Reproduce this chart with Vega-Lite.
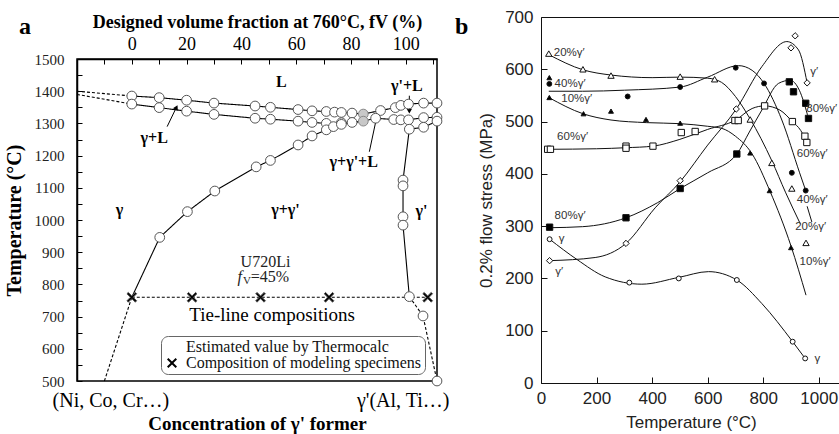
{
  "$schema": "https://vega.github.io/schema/vega-lite/v6.json",
  "background": "white",
  "padding": {"left": 3, "top": 8, "right": 0, "bottom": 0},
  "spacing": 5,
  "resolve": {"scale": {"shape": "independent", "fill": "independent"}, "legend": {"shape": "independent", "fill": "independent"}},
  "config": {"axis": {"grid": false, "labelFlush": false}},
  "datasets": {
    "a_lines": [
      {"seg":"liq","x":0,"t":1385,"style":"solid","m":"o"},
      {"seg":"liq","x":10,"t":1380,"style":"solid","m":"o"},
      {"seg":"liq","x":20,"t":1372,"style":"solid","m":"o"},
      {"seg":"liq","x":30,"t":1363,"style":"solid","m":"o"},
      {"seg":"liq","x":45,"t":1354,"style":"solid","m":"o"},
      {"seg":"liq","x":50.6,"t":1350,"style":"solid","m":"o"},
      {"seg":"liq","x":60.7,"t":1343,"style":"solid","m":"o"},
      {"seg":"liq","x":65.8,"t":1339,"style":"solid","m":"o"},
      {"seg":"liq","x":71,"t":1337,"style":"solid","m":"o"},
      {"seg":"liq","x":74,"t":1335,"style":"solid","m":"o"},
      {"seg":"liq","x":76.5,"t":1334,"style":"solid","m":"o"},
      {"seg":"liq","x":80.4,"t":1332,"style":"solid","m":"o"},
      {"seg":"liq","x":84.5,"t":1329,"style":"solid","m":"g"},
      {"seg":"liq","x":90.8,"t":1340,"style":"solid","m":"o"},
      {"seg":"liq","x":96.2,"t":1349,"style":"solid","m":"o"},
      {"seg":"liq","x":98.2,"t":1356,"style":"solid","m":"o"},
      {"seg":"liq","x":101,"t":1360,"style":"solid","m":"o"},
      {"seg":"liq","x":106.5,"t":1363,"style":"solid","m":"o"},
      {"seg":"liq","x":111.4,"t":1363,"style":"solid","m":"o"},
      {"seg":"sol","x":0,"t":1360,"style":"solid","m":"o"},
      {"seg":"sol","x":10,"t":1349,"style":"solid","m":"o"},
      {"seg":"sol","x":20,"t":1338,"style":"solid","m":"o"},
      {"seg":"sol","x":30,"t":1328,"style":"solid","m":"o"},
      {"seg":"sol","x":45,"t":1316,"style":"solid","m":"o"},
      {"seg":"sol","x":50.6,"t":1313,"style":"solid","m":"o"},
      {"seg":"sol","x":60.7,"t":1307,"style":"solid","m":"o"},
      {"seg":"sol","x":65.8,"t":1303,"style":"solid","m":"o"},
      {"seg":"sol","x":71,"t":1300,"style":"solid","m":"o"},
      {"seg":"sol","x":76.5,"t":1302,"style":"solid","m":"o"},
      {"seg":"sol","x":80.4,"t":1303,"style":"solid","m":"o"},
      {"seg":"sol","x":84.5,"t":1307,"style":"solid","m":"g"},
      {"seg":"solv","x":0,"t":760,"style":"solid","m":""},
      {"seg":"solv","x":10.2,"t":946,"style":"solid","m":"o"},
      {"seg":"solv","x":20.3,"t":1026,"style":"solid","m":"o"},
      {"seg":"solv","x":30.3,"t":1090,"style":"solid","m":"o"},
      {"seg":"solv","x":45.4,"t":1165,"style":"solid","m":"o"},
      {"seg":"solv","x":50.6,"t":1185,"style":"solid","m":"o"},
      {"seg":"solv","x":60.7,"t":1233,"style":"solid","m":"o"},
      {"seg":"solv","x":65.8,"t":1261,"style":"solid","m":"o"},
      {"seg":"solv","x":71,"t":1280,"style":"solid","m":"o"},
      {"seg":"solv","x":73.6,"t":1290,"style":"solid","m":"o"},
      {"seg":"solv","x":76.5,"t":1297,"style":"solid","m":"o"},
      {"seg":"solv","x":80.4,"t":1302,"style":"solid","m":""},
      {"seg":"solv","x":84.5,"t":1307,"style":"solid","m":""},
      {"seg":"gpl","x":84.5,"t":1307,"style":"solid","m":""},
      {"seg":"gpl","x":89,"t":1316,"style":"solid","m":"o"},
      {"seg":"gpl","x":95.6,"t":1312,"style":"solid","m":"o"},
      {"seg":"gpl","x":98.2,"t":1311,"style":"solid","m":"o"},
      {"seg":"gpl","x":101,"t":1311,"style":"solid","m":"o"},
      {"seg":"gpl","x":106.5,"t":1318,"style":"solid","m":"o"},
      {"seg":"gpl","x":111.4,"t":1319,"style":"solid","m":"o"},
      {"seg":"gps","x":101.3,"t":1282,"style":"solid","m":"o"},
      {"seg":"gps","x":106.5,"t":1288,"style":"solid","m":"o"},
      {"seg":"gps","x":111.4,"t":1307,"style":"solid","m":"o"},
      {"seg":"gpv","x":101.3,"t":1282,"style":"solid","m":""},
      {"seg":"gpv","x":99,"t":1124,"style":"solid","m":"o"},
      {"seg":"gpv","x":99,"t":1106,"style":"solid","m":"o"},
      {"seg":"gpv","x":99,"t":1010,"style":"solid","m":"o"},
      {"seg":"gpv","x":99,"t":984,"style":"solid","m":"o"},
      {"seg":"gpv","x":101.3,"t":762,"style":"solid","m":"o"},
      {"seg":"liqx","x":-20,"t":1400,"style":"dash","m":""},
      {"seg":"liqx","x":0,"t":1385,"style":"dash","m":""},
      {"seg":"solx","x":-20,"t":1390,"style":"dash","m":""},
      {"seg":"solx","x":0,"t":1360,"style":"dash","m":""},
      {"seg":"solvx","x":-10,"t":500,"style":"dash","m":""},
      {"seg":"solvx","x":0,"t":760,"style":"dash","m":""},
      {"seg":"gpvx","x":101.3,"t":762,"style":"dash","m":""},
      {"seg":"gpvx","x":106.3,"t":702,"style":"dash","m":"o"},
      {"seg":"gpvx","x":111.4,"t":500,"style":"dash","m":"o"},
      {"seg":"tie","x":0,"t":760,"style":"dash","m":"x"},
      {"seg":"tie","x":22,"t":760,"style":"dash","m":"x"},
      {"seg":"tie","x":47,"t":760,"style":"dash","m":"x"},
      {"seg":"tie","x":72,"t":760,"style":"dash","m":"x"},
      {"seg":"tie","x":108,"t":760,"style":"dash","m":"x"}
    ],
    "a_arrows": [
      {"arrow":"gl","x":12.9,"t":1290},
      {"arrow":"gl","x":16.3,"t":1350},
      {"arrow":"gpl","x":101.3,"t":1386},
      {"arrow":"gpl","x":101.3,"t":1336},
      {"arrow":"g3","x":86.7,"t":1212},
      {"arrow":"g3","x":89.5,"t":1324}
    ],
    "b_curves": [
      {"s":"γ","T":31,"S":275},{"s":"γ","T":130,"S":236},{"s":"γ","T":231,"S":203},{"s":"γ","T":363,"S":189},{"s":"γ","T":496,"S":202},{"s":"γ","T":603,"S":213},{"s":"γ","T":705,"S":197},{"s":"γ","T":795,"S":152},{"s":"γ","T":906,"S":79},{"s":"γ","T":951,"S":47},
      {"s":"γ′","T":31,"S":234},{"s":"γ′","T":195,"S":240},{"s":"γ′","T":306,"S":267},{"s":"γ′","T":411,"S":335},{"s":"γ′","T":501,"S":385},{"s":"γ′","T":600,"S":455},{"s":"γ′","T":703,"S":524},{"s":"γ′","T":795,"S":605},{"s":"γ′","T":885,"S":653},{"s":"γ′","T":927,"S":637},{"s":"γ′","T":958,"S":574},
      {"s":"10%","T":28,"S":546},{"s":"10%","T":151,"S":515},{"s":"10%","T":252,"S":503},{"s":"10%","T":379,"S":498},{"s":"10%","T":501,"S":496},{"s":"10%","T":600,"S":491},{"s":"10%","T":651,"S":487},{"s":"10%","T":700,"S":472},{"s":"10%","T":759,"S":439},{"s":"10%","T":825,"S":366},{"s":"10%","T":900,"S":262},{"s":"10%","T":954,"S":168},
      {"s":"20%","T":28,"S":628},{"s":"20%","T":151,"S":599},{"s":"20%","T":252,"S":589},{"s":"20%","T":400,"S":584},{"s":"20%","T":501,"S":585},{"s":"20%","T":600,"S":583},{"s":"20%","T":650,"S":575},{"s":"20%","T":700,"S":548},{"s":"20%","T":753,"S":505},{"s":"20%","T":831,"S":425},{"s":"20%","T":880,"S":365},{"s":"20%","T":933,"S":305},
      {"s":"40%","T":28,"S":558},{"s":"40%","T":150,"S":558},{"s":"40%","T":300,"S":560},{"s":"40%","T":501,"S":566},{"s":"40%","T":600,"S":585},{"s":"40%","T":711,"S":607},{"s":"40%","T":760,"S":598},{"s":"40%","T":803,"S":573},{"s":"40%","T":867,"S":503},{"s":"40%","T":931,"S":402},{"s":"40%","T":953,"S":368},
      {"s":"40%b","T":958,"S":338},{"s":"40%b","T":975,"S":308},
      {"s":"60%","T":28,"S":447},{"s":"60%","T":200,"S":448},{"s":"60%","T":306,"S":450},{"s":"60%","T":403,"S":453},{"s":"60%","T":500,"S":466},{"s":"60%","T":600,"S":485},{"s":"60%","T":701,"S":503},{"s":"60%","T":760,"S":525},{"s":"60%","T":805,"S":530},{"s":"60%","T":860,"S":522},{"s":"60%","T":905,"S":500},{"s":"60%","T":935,"S":483},{"s":"60%","T":957,"S":460},
      {"s":"80%","T":31,"S":297},{"s":"80%","T":150,"S":299},{"s":"80%","T":306,"S":316},{"s":"80%","T":420,"S":345},{"s":"80%","T":501,"S":372},{"s":"80%","T":600,"S":402},{"s":"80%","T":705,"S":438},{"s":"80%","T":750,"S":480},{"s":"80%","T":795,"S":522},{"s":"80%","T":855,"S":573},{"s":"80%","T":897,"S":579},{"s":"80%","T":930,"S":560},{"s":"80%","T":963,"S":506}
    ],
    "b_pts": [
      {"s":"γ","T":31,"S":275},{"s":"γ","T":318,"S":192},{"s":"γ","T":496,"S":200},{"s":"γ","T":705,"S":197},{"s":"γ","T":906,"S":79},{"s":"γ","T":951,"S":47},
      {"s":"γ′","T":31,"S":234},{"s":"γ′","T":306,"S":267},{"s":"γ′","T":501,"S":387},{"s":"γ′","T":703,"S":524},{"s":"γ′","T":900,"S":641},{"s":"γ′","T":915,"S":664},{"s":"γ′","T":958,"S":574},
      {"s":"10%","T":30,"S":584},{"s":"10%","T":30,"S":546},{"s":"10%","T":153,"S":515},{"s":"10%","T":252,"S":520},{"s":"10%","T":378,"S":504},{"s":"10%","T":501,"S":497},{"s":"10%","T":753,"S":440},{"s":"10%","T":823,"S":368},{"s":"10%","T":900,"S":259},
      {"s":"20%","T":28,"S":630},{"s":"20%","T":151,"S":600},{"s":"20%","T":252,"S":588},{"s":"20%","T":501,"S":586},{"s":"20%","T":625,"S":581},{"s":"20%","T":753,"S":504},{"s":"20%","T":831,"S":421},{"s":"20%","T":903,"S":372},{"s":"20%","T":954,"S":268},
      {"s":"40%","T":30,"S":572},{"s":"40%","T":312,"S":548},{"s":"40%","T":501,"S":566},{"s":"40%","T":701,"S":603},{"s":"40%","T":803,"S":573},{"s":"40%","T":903,"S":402},{"s":"40%","T":953,"S":368},
      {"s":"60%","T":24,"S":447},{"s":"60%","T":34,"S":447},{"s":"60%","T":306,"S":453},{"s":"60%","T":306,"S":449},{"s":"60%","T":403,"S":453},{"s":"60%","T":505,"S":479},{"s":"60%","T":555,"S":481},{"s":"60%","T":698,"S":502},{"s":"60%","T":710,"S":502},{"s":"60%","T":805,"S":530},{"s":"60%","T":905,"S":500},{"s":"60%","T":950,"S":472},{"s":"60%","T":957,"S":460},
      {"s":"80%","T":31,"S":298},{"s":"80%","T":306,"S":316},{"s":"80%","T":501,"S":372},{"s":"80%","T":705,"S":438},{"s":"80%","T":894,"S":576},{"s":"80%","T":909,"S":557},{"s":"80%","T":953,"S":535},{"s":"80%","T":963,"S":506}
    ],
    "b_labels": [
      {"T":46,"S":632,"txt":"20%γ′"},
      {"T":49,"S":572,"txt":"40%γ′"},
      {"T":73,"S":544,"txt":"10%γ′"},
      {"T":58,"S":470,"txt":"60%γ′"},
      {"T":49,"S":320,"txt":"80%γ′"},
      {"T":64,"S":275,"txt":"γ"},
      {"T":51,"S":213,"txt":"γ′"},
      {"T":969,"S":595,"txt":"γ′"},
      {"T":955,"S":524,"txt":"80%γ′"},
      {"T":921,"S":438,"txt":"60%γ′"},
      {"T":921,"S":350,"txt":"40%γ′"},
      {"T":915,"S":298,"txt":"20%γ′"},
      {"T":931,"S":231,"txt":"10%γ′"},
      {"T":985,"S":45,"txt":"γ"}
    ]
  },
  "hconcat": [
    {
      "width": 360,
      "height": 322,
      "title": {"text": "a", "anchor": "start", "frame": "group", "font": "Liberation Serif", "fontSize": 24, "fontWeight": "bold", "color": "black", "baseline": "alphabetic", "offset": 0, "dx": -58, "dy": 45},
      "view": {"stroke": "black", "strokeWidth": 1.5},
      "resolve": {"axis": {"x": "independent"}},
      "layer": [
        {
          "data": {"name": "a_lines"},
          "mark": {"type": "line", "color": "black", "strokeWidth": 1.1},
          "encoding": {
            "x": {"field": "x", "type": "quantitative", "scale": {"domain": [-20, 111.4], "nice": false, "zero": false},
              "axis": {"orient": "top", "title": "Designed volume fraction at 760°C, fV (%)", "values": [-10,0,10,20,30,40,50,60,70,80,90,100,110], "tickCount": 60, "labelExpr": "datum.value >= 0 && datum.value <= 100 && datum.value % 20 == 0 ? datum.label : ''", "tickSize": -5, "tickColor": "black", "domainColor": "black", "domainWidth": 1.5, "labelFont": "Liberation Serif", "labelFontSize": 18, "labelColor": "black", "labelPadding": 11, "titleFont": "Liberation Serif", "titleFontSize": 18, "titleFontWeight": "bold", "titleColor": "black", "titlePadding": 4, "labelOverlap": false}},
            "y": {"field": "t", "type": "quantitative", "scale": {"domain": [500, 1500], "nice": false, "zero": false},
              "axis": {"orient": "left", "title": "Temperature (°C)", "values": [500,550,600,650,700,750,800,850,900,950,1000,1050,1100,1150,1200,1250,1300,1350,1400,1450,1500], "tickCount": 60, "labelExpr": "datum.value % 100 == 0 ? datum.label : ''", "format": "d", "tickSize": -5, "tickColor": "black", "domainColor": "black", "domainWidth": 1.5, "labelFont": "Liberation Serif", "labelFontSize": 15, "labelColor": "#222", "labelPadding": 18, "titleFont": "Liberation Serif", "titleFontSize": 20, "titleFontWeight": "bold", "titleColor": "black", "titlePadding": 10, "labelOverlap": false}},
            "detail": {"field": "seg", "type": "nominal"},
            "strokeDash": {"field": "style", "type": "nominal", "scale": {"domain": ["solid", "dash"], "range": [[1, 0], [3, 2]]}, "legend": null},
            "order": {"value": null}
          }
        },
        {
          "data": {"name": "a_arrows"},
          "mark": {"type": "line", "color": "black", "strokeWidth": 1},
          "encoding": {
            "x": {"field": "x", "type": "quantitative", "scale": {"domain": [-20, 111.4], "nice": false, "zero": false}, "axis": null},
            "y": {"field": "t", "type": "quantitative", "scale": {"domain": [500, 1500], "nice": false, "zero": false}},
            "detail": {"field": "arrow", "type": "nominal"},
            "order": {"value": null}
          }
        },
        {
          "data": {"values": [{"x": 16.3, "t": 1350}]},
          "mark": {"type": "point", "shape": "triangle-up", "filled": true, "color": "black", "size": 30, "angle": 26, "opacity": 1},
          "encoding": {
            "x": {"field": "x", "type": "quantitative", "scale": {"domain": [-20, 111.4], "nice": false, "zero": false}, "axis": null},
            "y": {"field": "t", "type": "quantitative", "scale": {"domain": [500, 1500], "nice": false, "zero": false}}
          }
        },
        {
          "data": {"values": [{"x": 101.3, "t": 1338}]},
          "mark": {"type": "point", "shape": "triangle-up", "filled": true, "color": "black", "size": 30, "angle": 180, "opacity": 1},
          "encoding": {
            "x": {"field": "x", "type": "quantitative", "scale": {"domain": [-20, 111.4], "nice": false, "zero": false}, "axis": null},
            "y": {"field": "t", "type": "quantitative", "scale": {"domain": [500, 1500], "nice": false, "zero": false}}
          }
        },
        {
          "data": {"values": [{"x": 89.5, "t": 1322}]},
          "mark": {"type": "point", "shape": "triangle-up", "filled": true, "color": "black", "size": 30, "angle": 12, "opacity": 1},
          "encoding": {
            "x": {"field": "x", "type": "quantitative", "scale": {"domain": [-20, 111.4], "nice": false, "zero": false}, "axis": null},
            "y": {"field": "t", "type": "quantitative", "scale": {"domain": [500, 1500], "nice": false, "zero": false}}
          }
        },
        {
          "data": {"name": "a_lines"},
          "transform": [{"filter": "datum.m == 'g'"}],
          "mark": {"type": "point", "filled": true, "fill": "#c8c8c8", "stroke": "#888", "strokeWidth": 1, "size": 95, "opacity": 1},
          "encoding": {
            "x": {"field": "x", "type": "quantitative", "scale": {"domain": [-20, 111.4], "nice": false, "zero": false}, "axis": null},
            "y": {"field": "t", "type": "quantitative", "scale": {"domain": [500, 1500], "nice": false, "zero": false}}
          }
        },
        {
          "data": {"name": "a_lines"},
          "transform": [{"filter": "datum.m == 'o' || datum.m == 'x'"}],
          "mark": {"type": "point", "filled": true, "stroke": "#555", "strokeWidth": 1, "size": 95, "opacity": 1},
          "encoding": {
            "x": {"field": "x", "type": "quantitative", "scale": {"domain": [-20, 111.4], "nice": false, "zero": false},
              "axis": {"orient": "bottom", "title": "Concentration of γ' former", "values": [-7.8, 98.9], "tickCount": 60, "labelExpr": "datum.value < 50 ? '(Ni, Co, Cr…)' : \"γ'(Al, Ti…)\"", "ticks": false, "domain": false, "labelFont": "Liberation Serif", "labelFontSize": 20, "labelColor": "black", "labelPadding": 9, "titleFont": "Liberation Serif", "titleFontSize": 19, "titleFontWeight": "bold", "titleColor": "black", "titlePadding": 4, "labelOverlap": false}},
            "y": {"field": "t", "type": "quantitative", "scale": {"domain": [500, 1500], "nice": false, "zero": false}},
            "shape": {"field": "m", "type": "nominal", "scale": {"domain": ["o", "x"], "range": ["circle", "M-1,-0.72L-0.72,-1L0,-0.28L0.72,-1L1,-0.72L0.28,0L1,0.72L0.72,1L0,0.28L-0.72,1L-1,0.72L-0.28,0Z"]},
              "legend": {"orient": "none", "legendX": 84, "legendY": 277, "title": null, "fillColor": "white", "strokeColor": "#666", "cornerRadius": 7, "padding": 3, "labelFont": "Liberation Serif", "labelFontSize": 16, "labelColor": "#111", "symbolStrokeColor": "#555", "symbolStrokeWidth": 1, "symbolSize": 100, "rowPadding": 0, "labelOffset": 6, "labelLimit": 400, "labelExpr": "datum.value == 'o' ? 'Estimated value by Thermocalc' : 'Composition of modeling specimens'"}},
            "fill": {"field": "m", "type": "nominal", "scale": {"domain": ["o", "x"], "range": ["white", "black"]},
              "legend": {"orient": "none", "legendX": 84, "legendY": 277, "title": null, "fillColor": "white", "strokeColor": "#666", "cornerRadius": 7, "padding": 3, "labelFont": "Liberation Serif", "labelFontSize": 16, "labelColor": "#111", "symbolStrokeColor": "#555", "symbolStrokeWidth": 1, "symbolSize": 100, "rowPadding": 0, "labelOffset": 6, "labelLimit": 400, "labelExpr": "datum.value == 'o' ? 'Estimated value by Thermocalc' : 'Composition of modeling specimens'"}}
          }
        },
        {
          "data": {"values": [
            {"x": 54.6, "t": 1430, "txt": "L"},
            {"x": 100.4, "t": 1416, "txt": "γ'+L"},
            {"x": 8.2, "t": 1254, "txt": "γ+L"},
            {"x": 81, "t": 1181, "txt": "γ+γ'+L"},
            {"x": -4.5, "t": 1031, "txt": "γ"},
            {"x": 56.1, "t": 1031, "txt": "γ+γ'"},
            {"x": 105.7, "t": 1028, "txt": "γ'"}
          ]},
          "mark": {"type": "text", "font": "Liberation Serif", "fontSize": 16, "fontWeight": "bold", "color": "black", "align": "center", "baseline": "middle"},
          "encoding": {
            "x": {"field": "x", "type": "quantitative", "scale": {"domain": [-20, 111.4], "nice": false, "zero": false}, "axis": null},
            "y": {"field": "t", "type": "quantitative", "scale": {"domain": [500, 1500], "nice": false, "zero": false}},
            "text": {"field": "txt"}
          }
        },
        {
          "data": {"values": [
            {"x": 48.8, "t": 870, "txt": "U720Li"}
          ]},
          "mark": {"type": "text", "font": "Liberation Serif", "fontSize": 16, "color": "#222", "align": "center", "baseline": "middle"},
          "encoding": {
            "x": {"field": "x", "type": "quantitative", "scale": {"domain": [-20, 111.4], "nice": false, "zero": false}, "axis": null},
            "y": {"field": "t", "type": "quantitative", "scale": {"domain": [500, 1500], "nice": false, "zero": false}},
            "text": {"field": "txt"}
          }
        },
        {
          "data": {"values": [
            {"x": 43.4, "t": 822, "txt": "=45%"}
          ]},
          "mark": {"type": "text", "font": "Liberation Serif", "fontSize": 16, "color": "#222", "align": "left", "baseline": "middle"},
          "encoding": {
            "x": {"field": "x", "type": "quantitative", "scale": {"domain": [-20, 111.4], "nice": false, "zero": false}, "axis": null},
            "y": {"field": "t", "type": "quantitative", "scale": {"domain": [500, 1500], "nice": false, "zero": false}},
            "text": {"field": "txt"}
          }
        },
        {
          "data": {"values": [
            {"x": 38.6, "t": 822, "txt": "f"}
          ]},
          "mark": {"type": "text", "font": "Liberation Serif", "fontSize": 16, "fontStyle": "italic", "color": "#222", "align": "left", "baseline": "middle"},
          "encoding": {
            "x": {"field": "x", "type": "quantitative", "scale": {"domain": [-20, 111.4], "nice": false, "zero": false}, "axis": null},
            "y": {"field": "t", "type": "quantitative", "scale": {"domain": [500, 1500], "nice": false, "zero": false}},
            "text": {"field": "txt"}
          }
        },
        {
          "data": {"values": [
            {"x": 40.6, "t": 812, "txt": "V"}
          ]},
          "mark": {"type": "text", "font": "Liberation Serif", "fontSize": 11, "color": "#222", "align": "left", "baseline": "middle"},
          "encoding": {
            "x": {"field": "x", "type": "quantitative", "scale": {"domain": [-20, 111.4], "nice": false, "zero": false}, "axis": null},
            "y": {"field": "t", "type": "quantitative", "scale": {"domain": [500, 1500], "nice": false, "zero": false}},
            "text": {"field": "txt"}
          }
        },
        {
          "data": {"values": [
            {"x": 51.2, "t": 705, "txt": "Tie-line compositions"}
          ]},
          "mark": {"type": "text", "font": "Liberation Serif", "fontSize": 19, "color": "black", "align": "center", "baseline": "middle"},
          "encoding": {
            "x": {"field": "x", "type": "quantitative", "scale": {"domain": [-20, 111.4], "nice": false, "zero": false}, "axis": null},
            "y": {"field": "t", "type": "quantitative", "scale": {"domain": [500, 1500], "nice": false, "zero": false}},
            "text": {"field": "txt"}
          }
        }
      ]
    },
    {
      "width": 300,
      "height": 324,
      "title": {"text": "b", "anchor": "start", "frame": "group", "font": "Liberation Serif", "fontSize": 24, "fontWeight": "bold", "color": "black", "baseline": "alphabetic", "offset": 0, "dx": -86, "dy": 50},
      "view": {"stroke": null},
      "resolve": {"axis": {"x": "independent"}},
      "layer": [
        {
          "data": {"name": "b_curves"},
          "mark": {"type": "line", "color": "#111", "strokeWidth": 1, "interpolate": "monotone"},
          "encoding": {
            "x": {"field": "T", "type": "quantitative", "scale": {"domain": [0, 1080], "nice": false, "zero": false},
              "axis": {"orient": "bottom", "title": "Temperature (°C)", "values": [0,200,400,600,800,1000], "tickCount": 60, "format": "d", "tickSize": -6, "tickColor": "#111", "domainColor": "#111", "labelFont": "Liberation Sans", "labelFontSize": 17, "labelColor": "#222", "labelPadding": 13, "titleFont": "Liberation Sans", "titleFontSize": 17, "titleFontWeight": "normal", "titleColor": "#222", "titlePadding": 8, "labelOverlap": false}},
            "y": {"field": "S", "type": "quantitative", "scale": {"domain": [0, 700], "range": [324, -42], "nice": false, "zero": false},
              "axis": {"orient": "left", "title": "0.2% flow stress (MPa)", "values": [0,100,200,300,400,500,600,700], "tickCount": 60, "tickSize": -6, "tickColor": "#111", "domainColor": "#111", "labelFont": "Liberation Sans", "labelFontSize": 17, "labelColor": "#222", "labelPadding": 14, "titleFont": "Liberation Sans", "titleFontSize": 17, "titleFontWeight": "normal", "titleColor": "#222", "titlePadding": 9, "labelOverlap": false}},
            "detail": {"field": "s", "type": "nominal"},
            "order": {"value": null}
          }
        },
        {
          "data": {"name": "b_pts"},
          "transform": [{"filter": "datum.s == 'γ′' || datum.s == '20%' || datum.s == '60%' || datum.s == '80%'"}],
          "mark": {"type": "point", "filled": true, "stroke": "#111", "strokeWidth": 1, "size": 40, "opacity": 1},
          "encoding": {
            "x": {"field": "T", "type": "quantitative", "scale": {"domain": [0, 1080], "nice": false, "zero": false},
              "axis": {"orient": "top", "offset": 42, "title": null, "labels": false, "ticks": false, "domainColor": "#111"}},
            "y": {"field": "S", "type": "quantitative", "scale": {"domain": [0, 700], "range": [324, -42], "nice": false, "zero": false}},
            "shape": {"field": "s", "type": "nominal", "scale": {"domain": ["γ", "γ′", "10%", "20%", "40%", "60%", "80%"], "range": ["circle", "diamond", "triangle-up", "triangle-up", "circle", "square", "square"]}, "legend": null},
            "fill": {"field": "s", "type": "nominal", "scale": {"domain": ["γ", "γ′", "10%", "20%", "40%", "60%", "80%"], "range": ["white", "white", "black", "white", "black", "white", "black"]}, "legend": null}
          }
        },
        {
          "data": {"name": "b_pts"},
          "transform": [{"filter": "datum.s == 'γ' || datum.s == '10%' || datum.s == '40%'"}],
          "mark": {"type": "point", "filled": true, "stroke": "#111", "strokeWidth": 1, "size": 24, "opacity": 1},
          "encoding": {
            "x": {"field": "T", "type": "quantitative", "scale": {"domain": [0, 1080], "nice": false, "zero": false}, "axis": null},
            "y": {"field": "S", "type": "quantitative", "scale": {"domain": [0, 700], "range": [324, -42], "nice": false, "zero": false}},
            "shape": {"field": "s", "type": "nominal", "scale": {"domain": ["γ", "γ′", "10%", "20%", "40%", "60%", "80%"], "range": ["circle", "diamond", "triangle-up", "triangle-up", "circle", "square", "square"]}, "legend": null},
            "fill": {"field": "s", "type": "nominal", "scale": {"domain": ["γ", "γ′", "10%", "20%", "40%", "60%", "80%"], "range": ["white", "white", "black", "white", "black", "white", "black"]}, "legend": null}
          }
        },
        {
          "data": {"name": "b_labels"},
          "mark": {"type": "text", "font": "Liberation Sans", "fontSize": 11.5, "color": "#333", "align": "left", "baseline": "middle"},
          "encoding": {
            "x": {"field": "T", "type": "quantitative", "scale": {"domain": [0, 1080], "nice": false, "zero": false}, "axis": null},
            "y": {"field": "S", "type": "quantitative", "scale": {"domain": [0, 700], "range": [324, -42], "nice": false, "zero": false}},
            "text": {"field": "txt"}
          }
        }
      ]
    }
  ]
}
